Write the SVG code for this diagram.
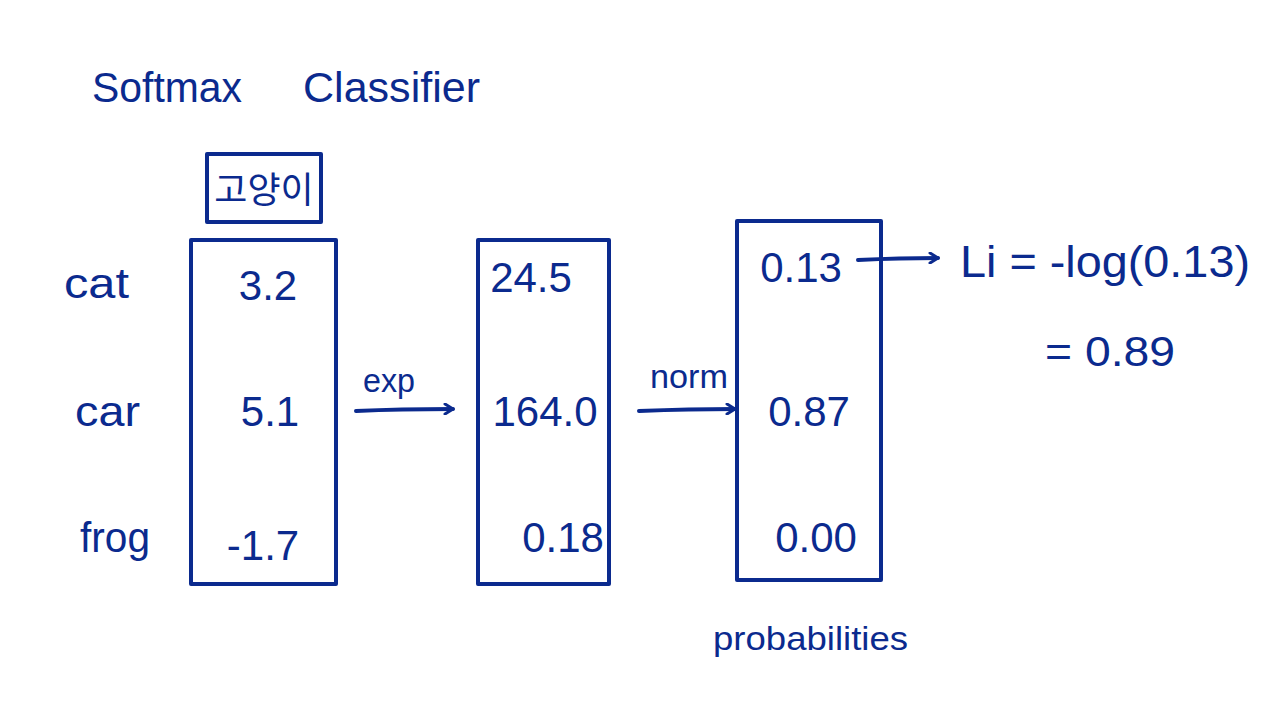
<svg xmlns="http://www.w3.org/2000/svg" width="1281" height="710" viewBox="0 0 1281 710">
<style>
.s{fill:none;stroke:#0b2a8e;stroke-width:4;stroke-linecap:round;stroke-linejoin:round}
text{font-family:"Liberation Sans","Noto Sans CJK KR",sans-serif;fill:#0b2a8e}
.t{font-size:42px}
.n{font-size:42px;text-anchor:middle}
.l{font-size:42px}
</style>
<defs>
<marker id="ah" viewBox="0 0 12 12" refX="10" refY="6" markerWidth="12" markerHeight="12" markerUnits="userSpaceOnUse" orient="auto">
<path d="M2,1 L10,6 L2,11" fill="none" stroke="#0b2a8e" stroke-width="3" stroke-linecap="round" stroke-linejoin="round"/>
</marker>
</defs>
<rect width="1281" height="710" fill="#ffffff"/>
<g id="title">
<text class="t" x="92" y="102" textLength="150" lengthAdjust="spacingAndGlyphs">Softmax</text>
<text class="t" x="303" y="102" textLength="177" lengthAdjust="spacingAndGlyphs">Classifier</text>
</g>
<g id="labels">
<text class="l" x="64" y="298" textLength="65" lengthAdjust="spacingAndGlyphs">cat</text>
<text class="l" x="75" y="426" textLength="65" lengthAdjust="spacingAndGlyphs">car</text>
<text class="l" x="80" y="552" textLength="70" lengthAdjust="spacingAndGlyphs">frog</text>
</g>
<g id="header">
<rect class="s" x="207" y="154" width="114" height="68"/>
<text x="264" y="203" font-size="36" text-anchor="middle">고양이</text>
</g>
<g id="scores">
<rect class="s" x="191" y="240" width="145" height="344"/>
<text class="n" x="268" y="300">3.2</text>
<text class="n" x="270" y="426">5.1</text>
<text class="n" x="263" y="560">-1.7</text>
</g>
<g id="exps">
<rect class="s" x="478" y="240" width="131" height="344"/>
<text class="n" x="531" y="292">24.5</text>
<text class="n" x="545" y="426">164.0</text>
<text class="n" x="563" y="552">0.18</text>
</g>
<g id="probs">
<rect class="s" x="737" y="221" width="144" height="359"/>
<text class="n" x="801" y="282">0.13</text>
<text class="n" x="809" y="426">0.87</text>
<text class="n" x="816" y="552">0.00</text>
<text x="713" y="650" font-size="34" textLength="195" lengthAdjust="spacingAndGlyphs">probabilities</text>
</g>
<g id="loss">
<text x="960" y="277" font-size="44" textLength="290" lengthAdjust="spacingAndGlyphs">Li = -log(0.13)</text>
<text x="1045" y="366" font-size="42" textLength="130" lengthAdjust="spacingAndGlyphs">= 0.89</text>
</g>
<g id="connectors">
<path class="s" d="M356,411 Q400,409 453,409" marker-end="url(#ah)"/>
<text x="363" y="392" font-size="34" textLength="52" lengthAdjust="spacingAndGlyphs">exp</text>
<path class="s" d="M639,411 Q690,409 735,409" marker-end="url(#ah)"/>
<text x="650" y="388" font-size="34" textLength="78" lengthAdjust="spacingAndGlyphs">norm</text>
<path class="s" d="M858,260 Q900,258 938,258" marker-end="url(#ah)"/>
</g>
</svg>
